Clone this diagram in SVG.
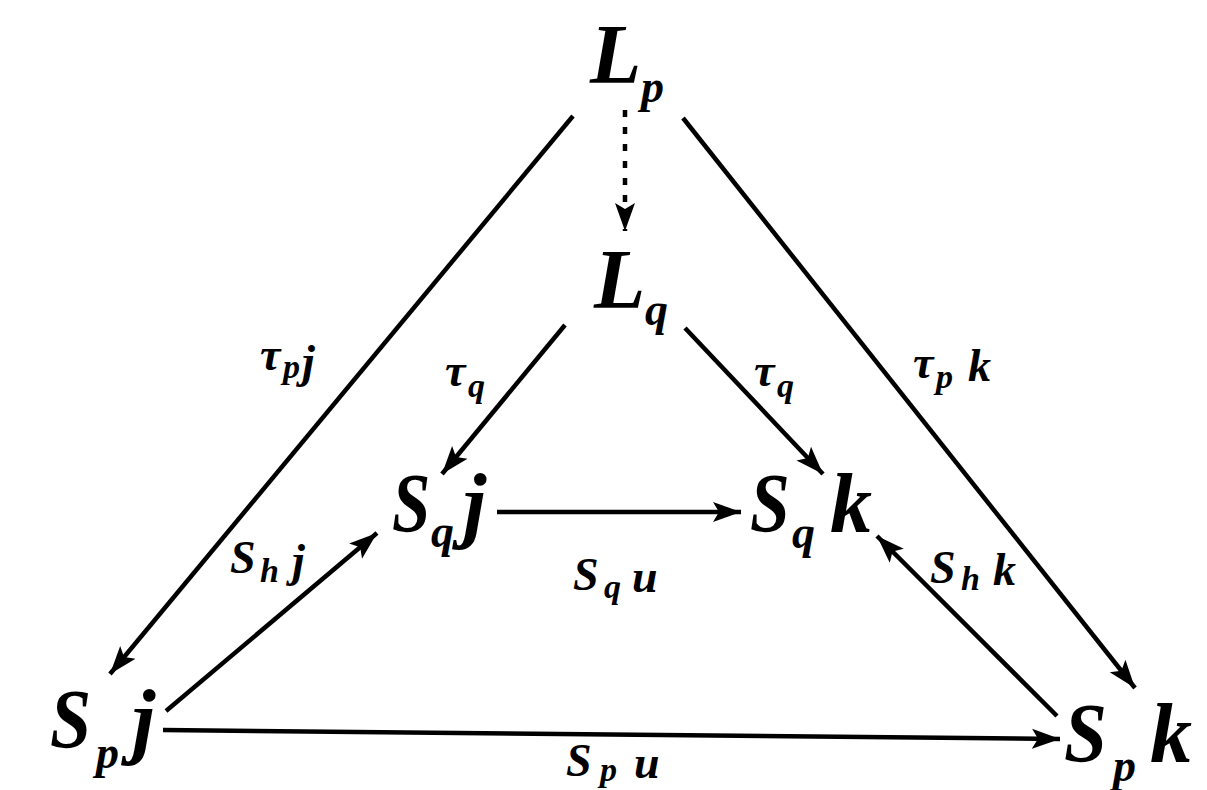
<svg xmlns="http://www.w3.org/2000/svg" width="1207" height="790" viewBox="0 0 1207 790">
<style>
text{font-family:"Liberation Serif","DejaVu Serif",serif;font-weight:bold;font-style:italic;fill:#000}
.big{font-size:84px}
.bsub{font-size:46px}
.lab{font-size:46px}
.lsub{font-size:34px}
.e{stroke:#000;stroke-width:4.5;fill:none;marker-end:url(#ah)}
</style>
<defs>
<marker id="ah" markerUnits="userSpaceOnUse" markerWidth="30" markerHeight="24" viewBox="0 0 30 24" refX="28" refY="12" orient="auto">
<path d="M0,2 L28,12 L0,22 L6,12 Z" fill="#000"/>
</marker>
</defs>
<rect width="1207" height="790" fill="#fff"/>
<g id="connectors">
<line class="e" x1="573" y1="116" x2="110" y2="674"/>
<line class="e" x1="683" y1="118" x2="1135" y2="688"/>
<line class="e" x1="625" y1="110" x2="625" y2="231" stroke-dasharray="7,10"/>
<line class="e" x1="565" y1="325" x2="442" y2="474"/>
<line class="e" x1="685" y1="328" x2="823" y2="474"/>
<line class="e" x1="497" y1="512" x2="741" y2="512"/>
<line class="e" x1="166" y1="711" x2="377" y2="533"/>
<line class="e" x1="1057" y1="716" x2="877" y2="536"/>
<line class="e" x1="163" y1="730" x2="1060" y2="739"/>
</g>
<g id="Lp"><text class="big" x="590" y="83">L</text><text class="bsub" x="641" y="102">p</text></g>
<g id="Lq"><text class="big" x="594" y="308">L</text><text class="bsub" x="645" y="325">q</text></g>
<g id="Sqj"><text class="big" transform="translate(392,532) scale(0.82,1)">S</text><text class="bsub" x="431" y="547">q</text><text class="big" x="463" y="532">j</text></g>
<g id="Sqk"><text class="big" transform="translate(750,532) scale(0.85,1)">S</text><text class="bsub" x="792" y="548">q</text><text class="big" x="830" y="532">k</text></g>
<g id="Spj"><text class="big" transform="translate(50,748) scale(0.88,1)">S</text><text class="bsub" x="96" y="768">p</text><text class="big" x="132" y="748">j</text></g>
<g id="Spk"><text class="big" transform="translate(1064,762) scale(0.92,1)">S</text><text class="bsub" x="1113" y="781">p</text><text class="big" x="1150" y="762">k</text></g>
<g id="labels">
<g id="tpj"><text class="lab" x="260" y="370">τ</text><text class="lsub" x="283" y="378">p</text><text class="lab" x="302" y="377">j</text></g>
<g id="tq1"><text class="lab" x="445" y="386">τ</text><text class="lsub" x="468" y="397">q</text></g>
<g id="tq2"><text class="lab" x="754" y="386">τ</text><text class="lsub" x="777" y="397">q</text></g>
<g id="tpk"><text class="lab" x="913" y="378">τ</text><text class="lsub" x="936" y="388">p</text><text class="lab" x="968" y="381">k</text></g>
<g id="Shj"><text class="lab" x="230" y="573">S</text><text class="lsub" x="260" y="582">h</text><text class="lab" x="292" y="576">j</text></g>
<g id="Shk"><text class="lab" x="930" y="583">S</text><text class="lsub" x="961" y="590">h</text><text class="lab" x="993" y="585">k</text></g>
<g id="Squ"><text class="lab" x="573" y="590">S</text><text class="lsub" x="604" y="598">q</text><text class="lab" x="632" y="592">u</text></g>
<g id="Spu"><text class="lab" x="566" y="776">S</text><text class="lsub" x="600" y="781">p</text><text class="lab" x="634" y="778">u</text></g>
</g>
</svg>
